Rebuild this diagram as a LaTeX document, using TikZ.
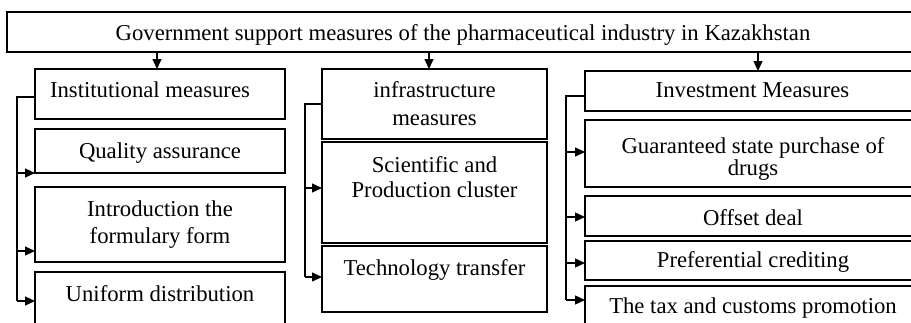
\documentclass[tikz,border=0pt]{standalone}
\usepackage{fontspec}
\setmainfont{Liberation Serif}
\usetikzlibrary{arrows.meta}
\begin{document}
\begin{tikzpicture}[x=1pt,y=-1pt,
  box/.style={draw,line width=1.3pt,inner sep=0pt,outer sep=0pt,anchor=north west},
  lbl/.style={inner sep=0pt,anchor=base,font=\fontsize{22.7}{26}\selectfont},
  link/.style={line width=1.3pt},
  arr/.style={line width=1.3pt,-{Triangle[length=10pt,width=9pt]}}]
\useasboundingbox (0,0) rectangle (911,322);
\clip (0,0) rectangle (911,322);
% boxes
\node[box,minimum width=913pt,minimum height=40pt] (top) at (7,12) {};
\node[box,minimum width=250pt,minimum height=50pt] (inst) at (35,69) {};
\node[box,minimum width=250pt,minimum height=44pt] (qual) at (35,129) {};
\node[box,minimum width=250pt,minimum height=75pt] (intro) at (35,187) {};
\node[box,minimum width=250pt,minimum height=70pt] (uni) at (35,272) {};
\node[box,minimum width=225pt,minimum height=70pt] (infra) at (322,69) {};
\node[box,minimum width=225pt,minimum height=101pt] (sci) at (322,142) {};
\node[box,minimum width=225pt,minimum height=66pt] (tech) at (322,246) {};
\node[box,minimum width=336pt,minimum height=40pt] (inv) at (585,71) {};
\node[box,minimum width=336pt,minimum height=67pt] (guar) at (585,120) {};
\node[box,minimum width=336pt,minimum height=40pt] (off) at (585,196) {};
\node[box,minimum width=336pt,minimum height=39pt] (pref) at (585,241) {};
\node[box,minimum width=336pt,minimum height=60pt] (tax) at (585,286) {};
% texts
\node[lbl] (ttop) at (463,40) {Government support measures of the pharmaceutical industry in Kazakhstan};
\node[lbl] (tinst) at (150,97) {Institutional measures};
\node[lbl] (tqual) at (160,158) {Quality assurance};
\node[lbl] (tintroa) at (160,216) {Introduction the};
\node[lbl] (tintrob) at (160,243) {formulary form};
\node[lbl] (tuni) at (160,301) {Uniform distribution};
\node[lbl] (tinfraa) at (434.5,97) {infrastructure};
\node[lbl] (tinfrab) at (434.5,125) {measures};
\node[lbl] (tscia) at (434.5,172) {Scientific and};
\node[lbl] (tscib) at (434.5,197) {Production cluster};
\node[lbl] (ttech) at (434.5,275) {Technology transfer};
\node[lbl] (tinv) at (752.5,97) {Investment Measures};
\node[lbl] (tguara) at (753,153) {Guaranteed state purchase of};
\node[lbl] (tguarb) at (753,175) {drugs};
\node[lbl] (toff) at (753,225) {Offset deal};
\node[lbl] (tpref) at (753,267) {Preferential crediting};
\node[lbl] (ttax) at (753,313) {The tax and customs promotion};
% top arrows
\draw[arr] ([xshift=-3pt]inst.north |- top.south) -- ([xshift=-3pt]inst.north);
\draw[arr] ([xshift=-5.5pt]infra.north |- top.south) -- ([xshift=-5.5pt]infra.north);
\draw[arr] ([xshift=5pt]inv.north |- top.south) -- ([xshift=5pt]inv.north);
% column 1 bus
\coordinate (bus1) at (17,0);
\coordinate (a1) at (qual.south west);
\coordinate (a2) at ([yshift=11pt]intro.south west);
\coordinate (a3) at ([yshift=-29pt]uni.north west);
\draw[link] ([yshift=-3pt]inst.west) -| (bus1 |- a3);
\draw[arr] (bus1 |- a1) -- (a1);
\draw[arr] (bus1 |- a2) -- (a2);
\draw[arr] (bus1 |- a3) -- (a3);
% column 2 bus
\coordinate (bus2) at (305,0);
\coordinate (b1) at ([yshift=4.5pt]sci.west);
\coordinate (b2) at ([yshift=2pt]tech.west);
\draw[link] (infra.west) -| (bus2 |- b2);
\draw[arr] (bus2 |- b1) -- (b1);
\draw[arr] (bus2 |- b2) -- (b2);
% column 3 bus
\coordinate (bus3) at (566,0);
\coordinate (c1) at ([yshift=1.5pt]guar.west);
\coordinate (c2) at ([yshift=-1pt]off.west);
\coordinate (c3) at ([yshift=-2.5pt]pref.west);
\coordinate (c4) at ([yshift=-14pt]tax.north west);
\draw[link] ([yshift=-5pt]inv.west) -| (bus3 |- c4);
\draw[arr] (bus3 |- c1) -- (c1);
\draw[arr] (bus3 |- c2) -- (c2);
\draw[arr] (bus3 |- c3) -- (c3);
\draw[arr] (bus3 |- c4) -- (c4);
\end{tikzpicture}
\end{document}
